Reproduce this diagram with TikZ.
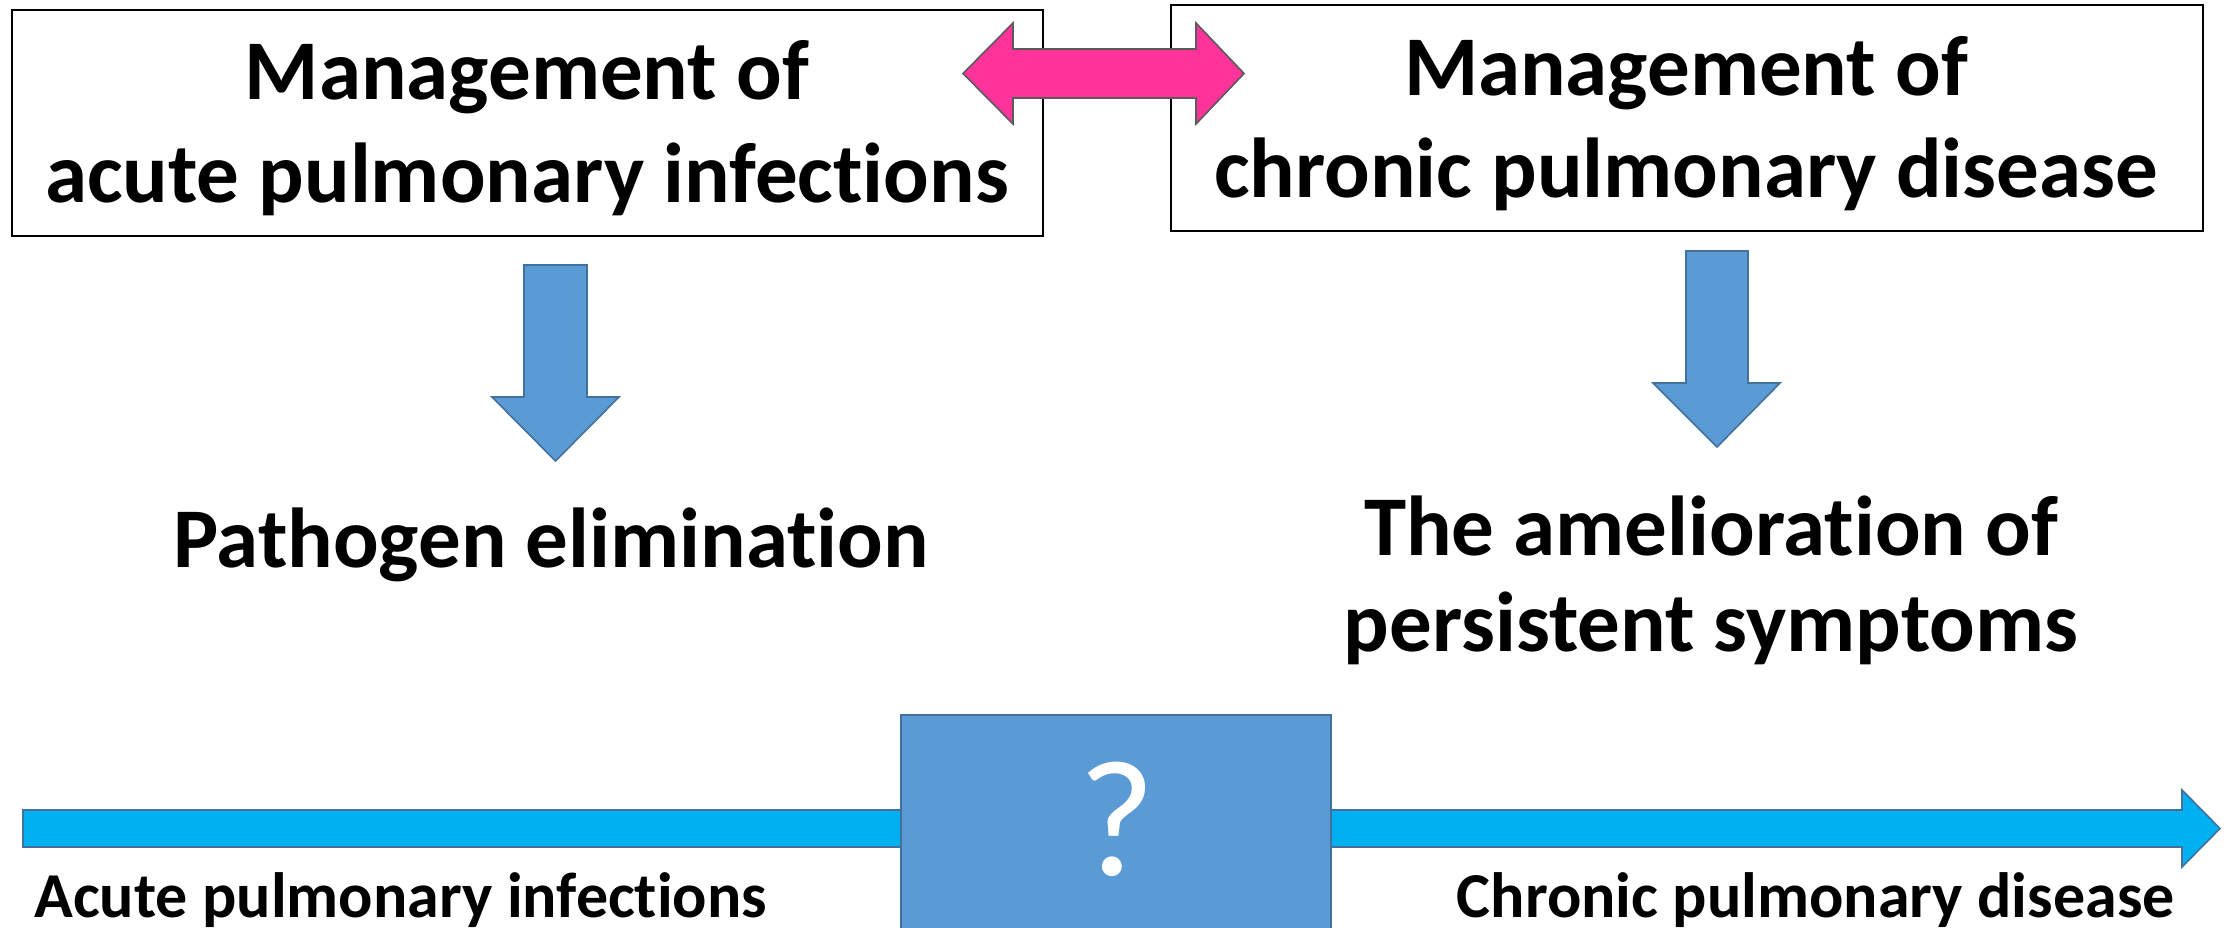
\documentclass[tikz,border=0pt]{standalone}
\usepackage{fontspec}
\setmainfont[Ligatures={NoCommon,NoRare,NoContextual}]{Carlito}
\definecolor{pinkfill}{HTML}{FF3399}
\definecolor{pinkline}{HTML}{5A5A5A}
\definecolor{bluefill}{HTML}{5B9BD5}
\definecolor{blueline}{HTML}{41719C}
\definecolor{cyanfill}{HTML}{00B0F0}
\tikzset{
  mgmtbox/.style={draw=black, line width=1.2pt, fill=white, inner sep=0pt},
  bigtext/.style={font=\fontsize{42.5}{48}\selectfont\bfseries, inner sep=0pt, anchor=base},
  labeltext/.style={font=\fontsize{32}{38}\selectfont\bfseries, inner sep=0pt, anchor=base},
  downarrow/.style={fill=bluefill, draw=blueline, line width=0.8pt},
  pinkarrow/.style={fill=pinkfill, draw=pinkline, line width=0.8pt},
  timebar/.style={fill=cyanfill, draw=blueline, line width=0.8pt},
  qbox/.style={fill=bluefill, draw=blueline, line width=0.9pt}
}
\begin{document}
\begin{tikzpicture}[x=0.5pt, y=-0.5pt]
\useasboundingbox (0,0) rectangle (2231,927);
\begin{scope}
\clip (0,0) rectangle (2231,927);

% timeline bar (behind the question box)
\draw[timebar] (23,810) -- (2182,810) -- (2182,790) -- (2220,828.5) -- (2182,867) -- (2182,847) -- (23,847) -- cycle;

% question box
\node[qbox, minimum width=430*0.5pt, minimum height=240*0.5pt, anchor=north west, inner sep=0pt] (qb) at (900,714) {};
\node[font=\fontsize{83}{90}\selectfont, text=white, inner sep=0pt, anchor=base] (q) at (1117,875) {?};

% boxes
\node[mgmtbox, minimum width=1031*0.5pt, minimum height=226*0.5pt, anchor=north west] (lbox) at (11,9) {};
\node[mgmtbox, minimum width=1032*0.5pt, minimum height=226*0.5pt, anchor=north west] (rbox) at (1170,4) {};

\node[bigtext] (l1) at (527,99) {Management of};
\node[bigtext] (l2) at (527,202) {acute pulmonary infections};
\node[bigtext] (r1) at (1686,95) {Management of};
\node[bigtext] (r2) at (1686,197) {chronic pulmonary disease};

% pink double arrow
\draw[pinkarrow] (963,73.5) -- (1013,23) -- (1013,49) -- (1196,49) -- (1196,23) -- (1244,73.5) -- (1196,124) -- (1196,98) -- (1013,98) -- (1013,124) -- cycle;

% down arrows
\draw[downarrow] (524,265) -- (587,265) -- (587,397) -- (619,397) -- (555.5,461) -- (492,397) -- (524,397) -- cycle;
\draw[downarrow] (1686,251) -- (1748,251) -- (1748,383) -- (1780,383) -- (1717,447) -- (1653,383) -- (1686,383) -- cycle;

% results
\node[bigtext] (res1) at (551,567) {Pathogen elimination};
\node[bigtext] (res2a) at (1711,555) {The amelioration of};
\node[bigtext] (res2b) at (1711,651) {persistent symptoms};

% timeline labels
\node[labeltext, anchor=base west] (acute) at (34,917) {Acute pulmonary infections};
\node[labeltext, anchor=base east] (chronic) at (2175,917) {Chronic pulmonary disease};
\end{scope}
\end{tikzpicture}
\end{document}
